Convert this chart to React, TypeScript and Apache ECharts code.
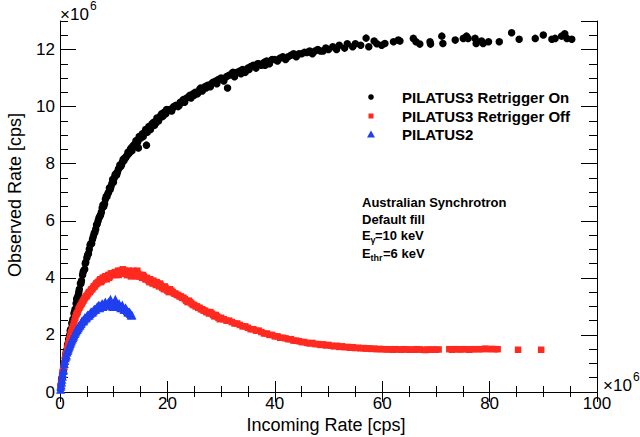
import React, { useEffect, useRef } from 'react';
import * as echarts from 'echarts';

// Observed vs incoming rate, both in units of 1e6 cps
const retriggerOn: [number, number][] = [
  [0.2, 0.25], [0.4, 0.5], [0.6, 0.75], [0.8, 1.0], [1.0, 1.2], [1.2, 1.45], [1.4, 1.65], [1.6, 1.85],
  [1.8, 2.0], [2.0, 2.2], [2.2, 2.4], [2.4, 2.55], [2.6, 2.75], [2.8, 2.9], [3.0, 3.1], [3.2, 3.3],
  [3.4, 3.4], [3.6, 3.6], [3.8, 3.8], [4.0, 3.9], [4.2, 4.1], [4.4, 4.25], [4.6, 4.3], [4.8, 4.55],
  [5.0, 4.7], [5.3, 4.85], [5.6, 5.15], [5.9, 5.2], [6.2, 5.45], [6.5, 5.6], [6.8, 5.85], [7.1, 6.0],
  [7.4, 6.15], [7.7, 6.3], [8.0, 6.55], [8.3, 6.6], [8.6, 6.85], [8.9, 6.95], [9.2, 7.15], [9.5, 7.2],
  [9.8, 7.45], [10.1, 7.5], [10.4, 7.65], [10.7, 7.7], [11.0, 7.85], [11.3, 7.9], [11.6, 8.05], [11.9, 8.1],
  [12.2, 8.2], [12.5, 8.3], [12.8, 8.35], [13.1, 8.5], [13.4, 8.45], [13.7, 8.65], [14.0, 8.7], [14.3, 8.8],
  [14.6, 8.55], [14.9, 8.9], [15.2, 9.0], [15.5, 8.95], [15.8, 9.1], [16.1, 8.65], [16.4, 9.2], [16.7, 9.25],
  [17.0, 9.3], [17.3, 9.4], [17.6, 9.35], [17.9, 9.5], [18.2, 9.55], [18.5, 9.6], [18.8, 9.7], [19.1, 9.65],
  [19.4, 9.8], [19.7, 9.75], [20.0, 9.85], [20.4, 9.9], [20.8, 9.85], [21.2, 10.0], [21.6, 10.05], [22.0, 10.0],
  [22.4, 10.15], [22.8, 10.2], [23.2, 10.15], [23.6, 10.3], [24.0, 10.35], [24.4, 10.3], [24.8, 10.45], [25.2, 10.5],
  [25.6, 10.45], [26.0, 10.6], [26.5, 10.55], [27.0, 10.7], [27.5, 10.75], [28.0, 10.7], [28.5, 10.85], [29.0, 10.9],
  [29.5, 10.95], [30.0, 11.0], [30.5, 10.9], [31.0, 11.05], [31.2, 10.65], [31.5, 11.1], [32.0, 11.15], [32.5, 11.05],
  [33.0, 11.2], [33.5, 11.25], [34.0, 11.3], [34.5, 11.2], [35.0, 11.35], [35.5, 11.4], [36.0, 11.45], [36.5, 11.35],
  [37.0, 11.5], [37.5, 11.45], [38.0, 11.55], [38.5, 11.6], [39.0, 11.5], [40.0, 11.65], [40.5, 11.6], [41.0, 11.7],
  [41.5, 11.75], [42.0, 11.65], [43.0, 11.8], [43.5, 11.85], [44.0, 11.75], [45.0, 11.85], [45.5, 11.9], [46.5, 11.95],
  [47.0, 11.85], [48.0, 12.0], [48.5, 11.95], [49.5, 12.05], [50.0, 12.0], [50.8, 12.1], [51.5, 12.0], [52.0, 12.15],
  [53.0, 12.05], [53.5, 12.2], [54.5, 12.1], [55.0, 12.2], [56.0, 12.15], [57.0, 12.4], [57.5, 12.1], [58.5, 12.3],
  [59.0, 12.2], [59.9, 12.15], [60.5, 12.21], [62.1, 12.27], [63.0, 12.33], [63.3, 12.3], [65.8, 12.39], [66.3, 12.27],
  [67.0, 12.19], [68.9, 12.27], [69.0, 12.19], [71.1, 12.47], [71.3, 12.21], [73.6, 12.33], [75.1, 12.39], [75.7, 12.47],
  [76.0, 12.39], [77.3, 12.39], [77.5, 12.21], [78.5, 12.3], [78.8, 12.21], [79.8, 12.27], [81.8, 12.27], [84.1, 12.59],
  [85.5, 12.36], [88.5, 12.39], [90.0, 12.51], [91.6, 12.36], [92.2, 12.39], [93.4, 12.47], [94.0, 12.55], [94.4, 12.39],
  [95.3, 12.36],
  [0.3, 0.45], [0.7, 0.8], [1.1, 1.35], [1.5, 1.7], [1.9, 2.15], [2.3, 2.45], [2.7, 2.8], [3.1, 3.25],
  [3.5, 3.5], [3.9, 3.8], [4.3, 4.2], [4.7, 4.5], [5.15, 4.8], [5.45, 5.0], [5.75, 5.2], [6.05, 5.35],
  [6.35, 5.55], [6.65, 5.7], [6.95, 5.9], [7.25, 6.1], [7.55, 6.2], [7.85, 6.45], [8.15, 6.5], [8.45, 6.75],
  [8.75, 6.85], [9.05, 7.0], [9.35, 7.1], [9.65, 7.3], [9.95, 7.35], [10.25, 7.6], [10.55, 7.6], [10.85, 7.8],
  [11.15, 7.95], [11.45, 7.95], [11.75, 8.15], [12.05, 8.2], [12.35, 8.25], [12.65, 8.4], [12.95, 8.4], [13.25, 8.55],
  [13.55, 8.6], [13.85, 8.6], [14.15, 8.8], [14.45, 8.75], [14.75, 8.95], [15.05, 8.9], [15.35, 9.05], [15.65, 9.05],
  [15.95, 9.2], [16.25, 9.1], [16.55, 9.3], [16.85, 9.2], [17.15, 9.4], [17.45, 9.45], [17.75, 9.4], [18.05, 9.6],
  [18.35, 9.5], [18.65, 9.65], [18.95, 9.75], [19.25, 9.7], [19.55, 9.8], [19.85, 9.9], [21.0, 9.95], [22.2, 10.05],
  [23.0, 10.25], [24.2, 10.4], [25.0, 10.4], [26.2, 10.65], [27.2, 10.65], [28.2, 10.8], [29.2, 10.8], [30.2, 10.95],
  [32.2, 11.2], [33.7, 11.15], [35.2, 11.3], [36.8, 11.5], [38.2, 11.45], [39.5, 11.65], [42.5, 11.75], [44.5, 11.85],
  [46.0, 11.9], [47.5, 11.95], [49.0, 11.95]
];

const retriggerOff: [number, number][] = [
  [0.1, 0.15], [0.3, 0.45], [0.5, 0.7], [0.7, 0.9], [0.9, 1.1], [1.1, 1.3], [1.3, 1.5], [1.5, 1.65],
  [1.7, 1.8], [1.9, 1.95], [2.1, 2.1], [2.4, 2.3], [2.7, 2.5], [3.0, 2.7], [3.3, 2.8], [3.6, 2.95],
  [3.9, 3.05], [4.2, 3.15], [4.5, 3.25], [4.8, 3.35], [5.1, 3.4], [5.4, 3.5], [5.7, 3.55], [6.0, 3.6],
  [6.3, 3.7], [6.6, 3.75], [6.9, 3.8], [7.2, 3.85], [7.5, 3.95], [7.8, 3.9], [8.1, 4.0], [8.4, 4.05],
  [8.7, 3.95], [9.0, 4.1], [9.3, 4.05], [9.6, 4.15], [9.9, 4.1], [10.2, 4.2], [10.5, 4.1], [10.8, 4.25],
  [11.1, 4.15], [11.4, 4.2], [11.7, 4.3], [12.0, 4.15], [12.3, 4.2], [12.6, 4.1], [12.9, 4.2], [13.2, 4.05],
  [13.5, 4.15], [13.8, 4.2], [14.1, 4.1], [14.4, 4.25], [14.7, 4.05], [15.0, 4.1], [15.3, 4.0], [15.6, 4.05],
  [15.9, 3.95], [16.2, 4.0], [16.5, 3.9], [16.8, 3.95], [17.1, 3.85], [17.4, 3.9], [17.7, 3.8], [18.0, 3.85],
  [18.3, 3.75], [18.6, 3.8], [18.9, 3.7], [19.2, 3.65], [19.5, 3.7], [19.8, 3.6], [20.0, 3.55], [20.5, 3.6],
  [21.0, 3.5], [21.5, 3.45], [22.0, 3.4], [22.5, 3.35], [23.0, 3.3], [23.5, 3.2], [24.0, 3.2], [24.5, 3.1],
  [25.0, 3.05], [25.5, 3.0], [26.0, 2.95], [26.5, 2.9], [27.0, 2.85], [27.5, 2.8], [28.0, 2.8], [28.5, 2.7],
  [29.0, 2.7], [29.5, 2.6], [30.0, 2.6], [30.5, 2.55], [31.0, 2.5], [31.5, 2.5], [32.0, 2.45], [32.5, 2.4],
  [33.0, 2.4], [33.5, 2.35], [34.0, 2.3], [34.5, 2.3], [35.0, 2.25], [35.5, 2.2], [36.0, 2.2], [36.5, 2.15],
  [37.0, 2.15], [37.5, 2.1], [38.0, 2.05], [38.5, 2.05], [39.0, 2.0], [39.5, 2.0], [40.0, 1.95], [40.5, 1.95],
  [41.0, 1.9], [41.5, 1.9], [42.0, 1.88], [42.5, 1.85], [43.0, 1.85], [43.5, 1.8], [44.0, 1.8], [44.5, 1.78],
  [45.0, 1.75], [45.5, 1.75], [46.0, 1.72], [46.5, 1.7], [47.0, 1.72], [47.5, 1.68], [48.0, 1.68], [48.5, 1.65],
  [49.0, 1.67], [49.5, 1.63], [50.0, 1.65], [50.5, 1.62], [51.0, 1.6], [51.5, 1.62], [52.0, 1.58], [52.5, 1.6],
  [53.0, 1.57], [53.5, 1.58], [54.0, 1.55], [54.5, 1.57], [55.0, 1.54], [55.5, 1.55], [56.0, 1.53], [56.5, 1.54],
  [57.0, 1.52], [57.5, 1.53], [58.0, 1.51], [58.5, 1.52], [59.0, 1.5], [59.5, 1.51], [60.0, 1.5], [60.5, 1.5],
  [61.0, 1.49], [61.5, 1.5], [62.0, 1.48], [62.5, 1.5], [63.0, 1.49], [63.5, 1.48], [64.0, 1.5], [64.5, 1.49],
  [65.0, 1.48], [65.5, 1.49], [66.0, 1.48], [66.5, 1.5], [67.0, 1.49], [67.5, 1.48], [68.0, 1.47], [68.5, 1.49],
  [69.0, 1.48], [69.5, 1.49], [70.0, 1.48], [70.5, 1.49], [72.5, 1.5], [73.0, 1.48], [73.5, 1.5], [74.0, 1.5],
  [74.5, 1.49], [75.0, 1.5], [75.6, 1.5], [76.2, 1.48], [76.8, 1.5], [77.3, 1.5], [78.0, 1.5], [78.6, 1.5],
  [79.2, 1.52], [79.8, 1.5], [80.4, 1.51], [81.0, 1.5], [81.5, 1.5], [85.3, 1.48], [89.6, 1.48],
  [0.2, 0.3], [0.4, 0.6], [0.6, 0.8], [0.8, 1.0], [1.0, 1.2], [1.2, 1.35], [1.4, 1.55], [1.6, 1.7],
  [1.8, 1.85], [2.0, 2.05], [2.25, 2.2], [2.55, 2.4], [2.85, 2.6], [3.15, 2.75], [3.45, 2.9], [3.75, 3.0],
  [4.05, 3.1], [4.35, 3.2], [4.65, 3.3], [4.95, 3.35], [5.25, 3.45], [5.55, 3.5], [5.85, 3.6], [6.15, 3.65],
  [6.45, 3.7], [6.75, 3.8], [7.05, 3.85], [7.35, 3.9], [7.65, 3.85], [7.95, 4.0], [8.25, 3.95], [8.55, 4.05],
  [8.85, 4.05], [9.15, 4.0], [9.45, 4.15], [9.75, 4.1], [10.05, 4.15], [10.35, 4.15], [10.65, 4.2], [10.95, 4.1],
  [11.25, 4.25], [11.55, 4.15], [11.85, 4.25], [12.15, 4.25], [12.45, 4.1], [12.75, 4.25], [13.05, 4.15], [13.35, 4.1],
  [13.65, 4.25], [13.95, 4.15], [14.25, 4.05], [14.55, 4.15], [14.85, 4.1], [15.15, 4.05], [15.45, 4.1], [15.75, 4.0],
  [16.05, 3.95], [16.35, 3.95], [16.65, 3.85], [16.95, 3.9], [17.25, 3.8], [17.55, 3.85], [17.85, 3.75], [18.15, 3.8],
  [18.45, 3.7], [18.75, 3.75], [19.05, 3.65], [19.35, 3.6], [19.65, 3.65], [20.25, 3.5], [20.75, 3.55], [21.25, 3.45],
  [21.75, 3.4], [22.25, 3.35], [22.75, 3.3], [23.25, 3.25], [23.75, 3.15], [24.25, 3.15], [24.75, 3.05], [25.25, 3.0],
  [25.75, 2.95], [26.25, 2.9], [26.75, 2.85], [27.25, 2.8], [27.75, 2.75], [28.25, 2.75], [28.75, 2.65], [29.25, 2.65],
  [29.75, 2.55]
];

const pilatus2: [number, number][] = [
  [0.1, 0.1], [0.2, 0.25], [0.35, 0.45], [0.5, 0.65], [0.65, 0.8], [0.8, 1.0], [1.0, 1.2], [1.2, 1.3],
  [1.4, 1.45], [1.6, 1.55], [1.8, 1.65], [2.0, 1.75], [2.25, 1.85], [2.5, 1.95], [2.75, 2.05], [3.0, 2.15],
  [3.25, 2.2], [3.5, 2.3], [3.75, 2.35], [4.0, 2.45], [4.25, 2.5], [4.5, 2.55], [4.75, 2.6], [5.0, 2.65],
  [5.3, 2.7], [5.6, 2.75], [5.9, 2.8], [6.2, 2.85], [6.5, 2.9], [6.8, 2.95], [7.1, 3.0], [7.4, 2.95],
  [7.7, 3.05], [8.0, 3.0], [8.3, 3.1], [8.6, 3.05], [8.9, 3.1], [9.2, 3.05], [9.4, 3.25], [9.8, 3.0],
  [10.1, 3.1], [10.3, 3.25], [10.7, 3.0], [11.0, 3.1], [11.3, 2.95], [11.6, 3.05], [11.9, 2.9], [12.2, 2.95],
  [12.5, 2.85], [12.8, 2.8], [13.1, 2.75], [13.4, 2.7],
  [0.15, 0.2], [0.3, 0.35], [0.45, 0.55], [0.6, 0.75], [0.9, 1.1], [1.1, 1.25], [1.3, 1.4], [1.5, 1.5],
  [1.7, 1.6], [1.9, 1.7], [2.1, 1.8], [2.4, 1.9], [2.6, 2.0], [2.9, 2.1], [3.1, 2.2], [3.4, 2.25],
  [3.6, 2.35], [3.9, 2.4], [4.1, 2.5], [4.4, 2.5], [4.6, 2.6], [4.9, 2.6], [5.15, 2.7], [5.45, 2.7],
  [5.75, 2.8], [6.05, 2.8], [6.35, 2.9], [6.65, 2.9], [6.95, 3.0], [7.25, 3.05], [7.55, 3.0], [7.85, 3.1],
  [8.15, 3.05], [8.45, 3.15], [8.75, 3.05], [9.05, 3.15], [9.6, 3.1], [9.95, 3.05], [10.5, 3.15], [10.85, 3.05],
  [11.15, 3.0], [11.45, 3.0], [11.75, 2.95], [12.05, 2.9], [12.35, 2.9], [12.65, 2.8], [12.95, 2.8], [13.25, 2.7]
];

const seriesNames = ['PILATUS3 Retrigger On', 'PILATUS3 Retrigger Off', 'PILATUS2'];
const seriesColors = ['#000000', '#ff2a1f', '#1f3ff0'];
const annotationLines = ['Australian Synchrotron', 'Default fill'];

const FONT = 'Liberation Sans, Arial, Helvetica, sans-serif';

export default function App() {
  const ref = useRef<HTMLDivElement>(null);

  useEffect(() => {
    if (!ref.current) return;
    const chart = echarts.init(ref.current, undefined, { renderer: 'svg' });

    const axisLine = { show: true, lineStyle: { color: '#000', width: 1 } };

    const option: any = {
      animation: false,
      backgroundColor: '#fff',
      grid: { left: 60, right: 43, top: 21, bottom: 45 },
      xAxis: [
        {
          type: 'value', position: 'bottom', min: 0, max: 100, interval: 20,
          axisLine, splitLine: { show: false },
          axisTick: { show: true, inside: true, length: 11, lineStyle: { color: '#000' } },
          minorTick: { show: true, splitNumber: 4, length: 6, lineStyle: { color: '#000' } },
          axisLabel: { show: true, color: '#000', fontSize: 17, fontFamily: FONT, margin: 3 },
        },
        {
          type: 'value', position: 'top', min: 0, max: 100, interval: 20,
          axisLine, splitLine: { show: false },
          axisTick: { show: true, inside: true, length: 10, lineStyle: { color: '#000' } },
          minorTick: { show: true, splitNumber: 4, length: 5, lineStyle: { color: '#000' } },
          axisLabel: { show: false },
        },
      ],
      yAxis: [
        {
          type: 'value', position: 'left', min: 0, max: 13, interval: 2,
          axisLine, splitLine: { show: false },
          axisTick: { show: true, inside: true, length: 16, lineStyle: { color: '#000' } },
          axisLabel: { show: true, color: '#000', fontSize: 17, fontFamily: FONT, margin: 5, showMaxLabel: false },
        },
        {
          type: 'value', position: 'left', min: 0, max: 13, interval: 0.5,
          axisLine: { show: false }, splitLine: { show: false },
          axisTick: { show: true, inside: true, length: 8, lineStyle: { color: '#000' } },
          axisLabel: { show: false },
        },
        {
          type: 'value', position: 'right', min: 0, max: 13, interval: 2,
          axisLine, splitLine: { show: false },
          axisTick: { show: true, inside: true, length: 16, lineStyle: { color: '#000' } },
          axisLabel: { show: false },
        },
        {
          type: 'value', position: 'right', min: 0, max: 13, interval: 0.5,
          axisLine: { show: false }, splitLine: { show: false },
          axisTick: { show: true, inside: true, length: 8, lineStyle: { color: '#000' } },
          axisLabel: { show: false },
        },
      ],
      series: [
        {
          name: seriesNames[0], type: 'scatter', xAxisIndex: 0, yAxisIndex: 0,
          symbol: 'circle', symbolSize: 7.5, data: retriggerOn,
          itemStyle: { color: seriesColors[0], opacity: 1 },
        },
        {
          name: seriesNames[1], type: 'scatter', xAxisIndex: 0, yAxisIndex: 0,
          symbol: 'rect', symbolSize: 6.5, data: retriggerOff,
          itemStyle: { color: seriesColors[1], opacity: 1 },
        },
        {
          name: seriesNames[2], type: 'scatter', xAxisIndex: 0, yAxisIndex: 0,
          symbol: 'triangle', symbolSize: 9, data: pilatus2,
          itemStyle: { color: seriesColors[2], opacity: 1 },
        },
      ],
      graphic: [
        // exponent labels
        { type: 'text', x: 60, y: 14, style: { text: '×10', font: `17px ${FONT}`, fill: '#000', verticalAlign: 'middle' } },
        { type: 'text', x: 90, y: 6, style: { text: '6', font: `12px ${FONT}`, fill: '#000', verticalAlign: 'middle' } },
        { type: 'text', x: 603, y: 385, style: { text: '×10', font: `17px ${FONT}`, fill: '#000', verticalAlign: 'middle' } },
        { type: 'text', x: 633, y: 377, style: { text: '6', font: `12px ${FONT}`, fill: '#000', verticalAlign: 'middle' } },
        // axis titles
        { type: 'text', x: 326, y: 425, style: { text: 'Incoming Rate [cps]', font: `18px ${FONT}`, fill: '#000', align: 'center', verticalAlign: 'middle' } },
        { type: 'text', x: 15, y: 195, rotation: Math.PI / 2, style: { text: 'Observed Rate [cps]', font: `18px ${FONT}`, fill: '#000', align: 'center', verticalAlign: 'middle' } },
        // legend
        { type: 'circle', shape: { cx: 371, cy: 97, r: 2.8 }, style: { fill: seriesColors[0] } },
        { type: 'rect', shape: { x: 368.5, y: 113.5, width: 5, height: 5 }, style: { fill: seriesColors[1] } },
        { type: 'polygon', shape: { points: [[371, 130.5], [375, 137.5], [367, 137.5]] }, style: { fill: seriesColors[2] } },
        { type: 'text', x: 402, y: 97, style: { text: seriesNames[0], font: `bold 15px ${FONT}`, fill: '#000', verticalAlign: 'middle' } },
        { type: 'text', x: 402, y: 116, style: { text: seriesNames[1], font: `bold 15px ${FONT}`, fill: '#000', verticalAlign: 'middle' } },
        { type: 'text', x: 402, y: 134, style: { text: seriesNames[2], font: `bold 15px ${FONT}`, fill: '#000', verticalAlign: 'middle' } },
        // annotation
        { type: 'text', x: 362, y: 202, style: { text: annotationLines[0], font: `bold 13px ${FONT}`, fill: '#000', verticalAlign: 'middle' } },
        { type: 'text', x: 362, y: 219, style: { text: annotationLines[1], font: `bold 13px ${FONT}`, fill: '#000', verticalAlign: 'middle' } },
        { type: 'text', x: 362, y: 235, style: { text: 'E', font: `bold 13px ${FONT}`, fill: '#000', verticalAlign: 'middle' } },
        { type: 'text', x: 370.5, y: 240, style: { text: 'γ', font: `bold 9px ${FONT}`, fill: '#000', verticalAlign: 'middle' } },
        { type: 'text', x: 375, y: 235, style: { text: '=10 keV', font: `bold 13px ${FONT}`, fill: '#000', verticalAlign: 'middle' } },
        { type: 'text', x: 362, y: 253, style: { text: 'E', font: `bold 13px ${FONT}`, fill: '#000', verticalAlign: 'middle' } },
        { type: 'text', x: 370.5, y: 258, style: { text: 'thr', font: `bold 9px ${FONT}`, fill: '#000', verticalAlign: 'middle' } },
        { type: 'text', x: 383, y: 253, style: { text: '=6 keV', font: `bold 13px ${FONT}`, fill: '#000', verticalAlign: 'middle' } },
      ],
    };

    chart.setOption(option);
    return () => chart.dispose();
  }, []);

  return (
    <div
      ref={ref}
      style={{ position: 'fixed', left: 0, top: 0, width: 640, height: 437, background: '#fff' }}
    />
  );
}
